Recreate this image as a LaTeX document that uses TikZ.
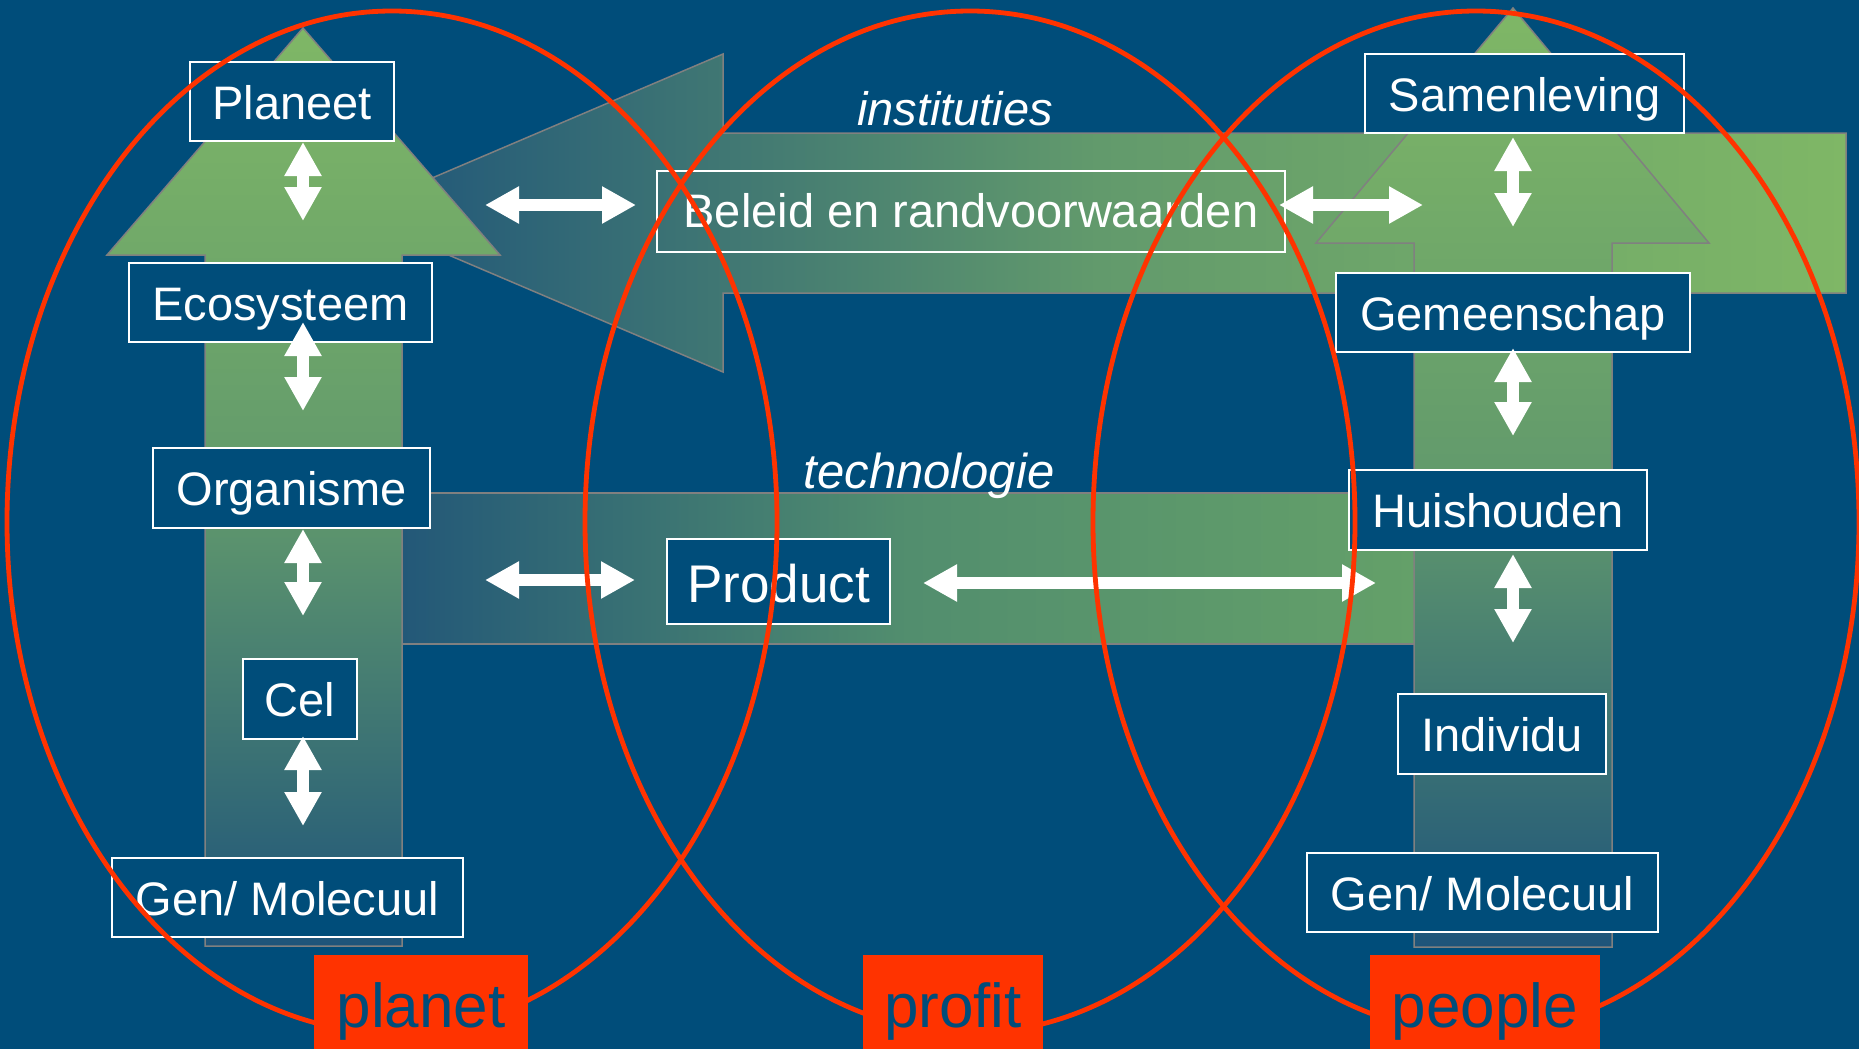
\documentclass[tikz,border=0pt]{standalone}
\usepackage{fontspec}
\setmainfont{Liberation Sans}
\usetikzlibrary{arrows.meta}
\definecolor{bgblue}{RGB}{0,77,122}
\definecolor{ringred}{RGB}{255,51,0}
\definecolor{leafgreen}{RGB}{127,183,102}
\definecolor{midgreen}{RGB}{98,154,108}
\definecolor{fadeblue}{RGB}{30,84,122}
\definecolor{bandleft}{RGB}{35,88,120}
\definecolor{bandmid}{RGB}{82,142,110}
\definecolor{bandright}{RGB}{100,160,105}
\definecolor{edgegray}{RGB}{128,128,128}
\begin{document}
\begin{tikzpicture}[x=0.5pt,y=-0.5pt,
  lvl/.style={draw=white, line width=1pt, fill=bgblue, text=white, inner sep=0pt,
    font=\fontsize{23.5}{28}\selectfont, text height=21.5pt, text depth=4pt, minimum height=39.75pt},
  tag/.style={fill=ringred, text=bgblue, inner sep=0pt, font=\fontsize{31}{36}\selectfont,
    text height=25pt, text depth=0pt, minimum height=47pt, anchor=north},
  arrowshape/.style={draw=edgegray, line width=0.75pt},
  dbl/.style={white, line width=6pt,
    arrows={Triangle[length=17pt,width=17.5pt]-Triangle[length=17pt,width=17.5pt]}},
  ring/.style={draw=ringred, line width=2.4pt},
  flow/.style={text=white, inner sep=0pt, anchor=base, font=\fontsize{23.5}{28}\selectfont\itshape}
]
\useasboundingbox (0,0) rectangle (1859,1049);
\fill[bgblue] (0,0) rectangle (1859,1049);

% technology band
\path[arrowshape, left color=bandleft, right color=bandright, middle color=bandmid]
  (402,493) rectangle (1415,644);
% institutions arrow (pointing left)
\path[arrowshape, left color=fadeblue, right color=leafgreen, middle color=midgreen]
  (1846,133) -- (723,133) -- (723,54) -- (350,213) -- (723,372) -- (723,293) -- (1846,293) -- cycle;
% planet column arrow
\path[arrowshape, top color=leafgreen, bottom color=fadeblue, middle color=midgreen]
  (205,946) -- (205,255) -- (107,255) -- (303,28) -- (500,255) -- (402,255) -- (402,946) -- cycle;
% people column arrow
\path[arrowshape, top color=leafgreen, bottom color=fadeblue, middle color=midgreen]
  (1414,947) -- (1414,243) -- (1316,243) -- (1513,8) -- (1709,243) -- (1612,243) -- (1612,947) -- cycle;

% boxes, planet side
\node[lvl, minimum width=102pt]   (planeet) at (292,101.5) {Planeet};
\node[lvl, minimum width=151.5pt] (eco)     at (280.5,302.5) {Ecosysteem};
\node[lvl, minimum width=138.5pt] (org)     at (291.5,488) {Organisme};
\node[lvl, minimum width=57pt]    (cel)     at (300,699) {Cel};
\node[lvl, minimum width=175.5pt] (genL)    at (287.5,897.5) {Gen/ Molecuul};
% boxes, people side
\node[lvl, minimum width=159.5pt] (samen)   at (1524.5,93.5) {Samenleving};
\node[lvl, minimum width=177pt]   (gemeen)  at (1513,312.5) {Gemeenschap};
\node[lvl, minimum width=149pt]   (huis)    at (1498,510) {Huishouden};
\node[lvl, minimum width=104pt]   (indiv)   at (1502,734) {Individu};
\node[lvl, minimum width=175.5pt] (genR)    at (1482.5,892.5) {Gen/ Molecuul};
% boxes, profit
\node[lvl, fill=none, minimum width=314pt, minimum height=40.5pt, text height=20.5pt, text depth=5pt]
  (beleid) at (971,211.5) {Beleid en randvoorwaarden};
\node[lvl, minimum width=111.5pt, minimum height=42.5pt, font=\fontsize{26.5}{32}\selectfont,
  text height=24.5pt, text depth=4pt] (product) at (778.5,581.5) {Product};

% flow labels
\node[flow] (inst) at (955,125) {instituties};
\node[flow, font=\fontsize{24.5}{29}\selectfont\itshape] (tech) at (929,488) {technologie};

% double arrows, planet column
\coordinate (pa1) at (303,142); \coordinate (pb1) at (303,221);
\coordinate (pa2) at (303,322); \coordinate (pb2) at (303,411);
\coordinate (pa3) at (303,529); \coordinate (pb3) at (303,616);
\coordinate (pa4) at (303,736); \coordinate (pb4) at (303,826);
\draw[dbl] (pa1) -- (pb1);
\draw[dbl] (pa2) -- (pb2);
\draw[dbl] (pa3) -- (pb3);
\draw[dbl] (pa4) -- (pb4);
% double arrows, people column
\coordinate (qa1) at (1513,137); \coordinate (qb1) at (1513,227);
\coordinate (qa2) at (1513,348); \coordinate (qb2) at (1513,436);
\coordinate (qa3) at (1513,554); \coordinate (qb3) at (1513,643);
\draw[dbl] (qa1) -- (qb1);
\draw[dbl] (qa2) -- (qb2);
\draw[dbl] (qa3) -- (qb3);
% horizontal double arrows
\coordinate (ha1) at (485,205);  \coordinate (hb1) at (636,205);
\coordinate (ha2) at (1279,205); \coordinate (hb2) at (1423,205);
\coordinate (ha3) at (485,580);  \coordinate (hb3) at (635,580);
\coordinate (ha4) at (923,583);  \coordinate (hb4) at (1376,583);
\draw[dbl] (ha1) -- (hb1);
\draw[dbl] (ha2) -- (hb2);
\draw[dbl] (ha3) -- (hb3);
\draw[dbl] (ha4) -- (hb4);

% red rings
\draw[ring] (392,522) ellipse [x radius=385, y radius=511];
\draw[ring] (970,522) ellipse [x radius=385, y radius=511];
\draw[ring] (1476,522) ellipse [x radius=383, y radius=511];

% tags
\node[tag, minimum width=107pt] (planet) at (421,955) {planet};
\node[tag, minimum width=90pt]  (profit) at (953,955) {profit};
\node[tag, minimum width=115pt] (people) at (1485,955) {people};
\end{tikzpicture}
\end{document}
